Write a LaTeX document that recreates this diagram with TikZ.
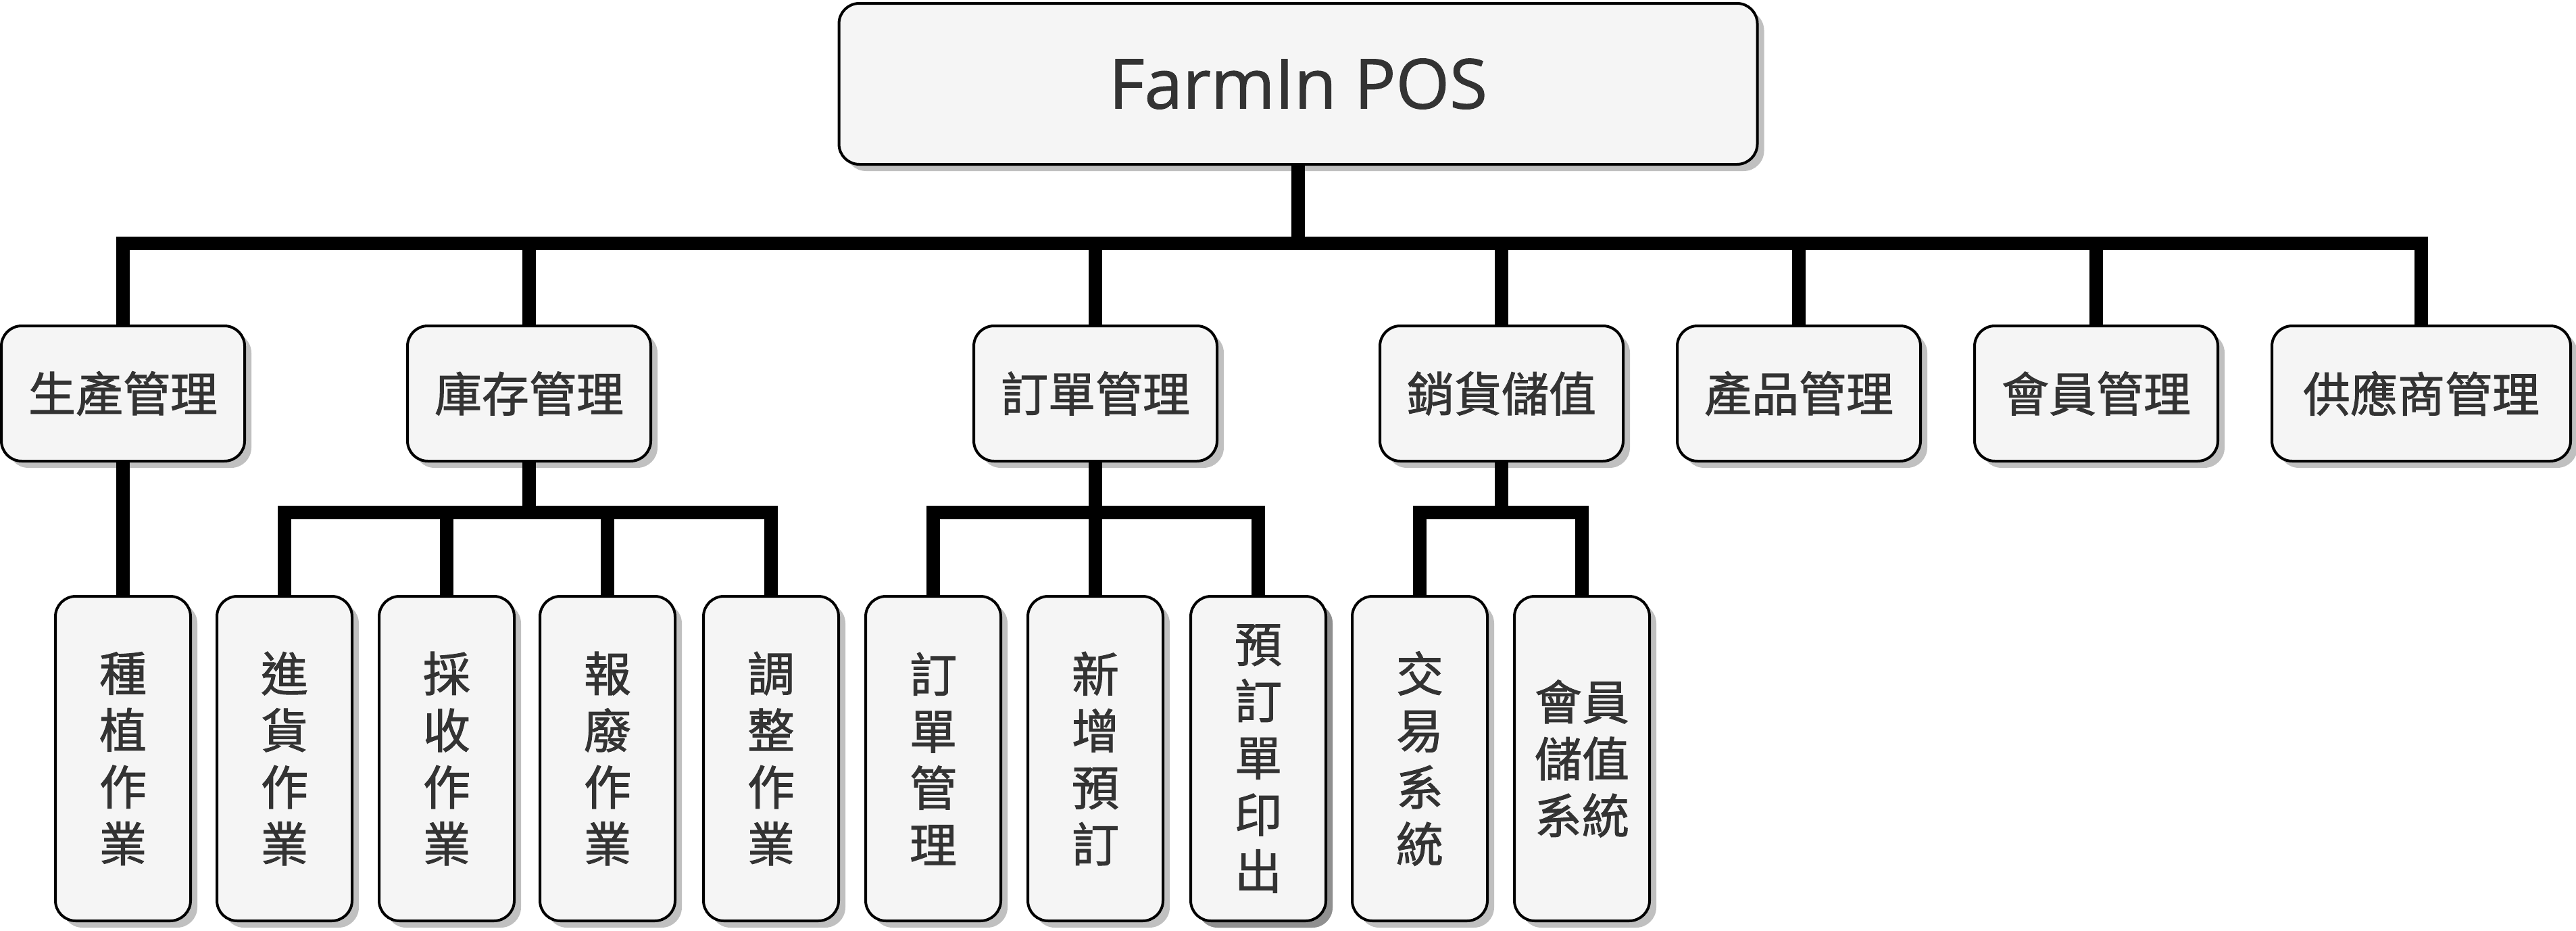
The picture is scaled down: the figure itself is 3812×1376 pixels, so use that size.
\documentclass[tikz,border=0pt]{standalone}
\usepackage{fontspec}
\setmainfont{Open Sans}[BoldFont={Open Sans}, BoldFeatures={FakeBold=1.0}]
\newfontfamily\cjk{Noto Sans CJK TC}[BoldFont={Noto Sans CJK TC}, BoldFeatures={FakeBold=1.4}]
\usetikzlibrary{shadows}
\definecolor{boxfill}{HTML}{F5F5F5}
\definecolor{txt}{HTML}{333333}
\definecolor{shad}{HTML}{C0C0C0}
\definecolor{shaddark}{HTML}{909090}
\tikzset{
  box/.style={draw=black, line width=2pt, fill=boxfill, rounded corners=15pt, inner sep=0pt,
    text=txt, align=center,
    drop shadow={shadow xshift=5pt, shadow yshift=-5pt, fill=shad, opacity=1}},
  darkshadow/.style={drop shadow={shadow xshift=5pt, shadow yshift=-5pt, fill=shaddark, opacity=1}},
  topbox/.style={box, minimum width=679.5pt, minimum height=119pt, font=\bfseries\fontsize{51}{60}\selectfont},
  midbox/.style={box, minimum width=180pt, minimum height=100pt, font=\cjk\bfseries\fontsize{35}{42}\selectfont},
  widebox/.style={midbox, minimum width=221pt},
  lowbox/.style={box, minimum width=100pt, minimum height=240pt, font=\cjk\bfseries\fontsize{35}{42}\selectfont},
  conn/.style={line width=10pt, draw=black}
}
\begin{document}
\begin{tikzpicture}[x=0.5pt,y=-0.5pt]
\useasboundingbox (0,0) rectangle (3812,1376);
% top
\node[topbox] (top) at (1921,124) {FarmIn POS};
% level 2
\node[midbox] (p1) at (182,582) {生產管理};
\node[midbox] (p2) at (783,582) {庫存管理};
\node[midbox] (p3) at (1621,582) {訂單管理};
\node[midbox] (p4) at (2222,582) {銷貨儲值};
\node[midbox] (p5) at (2662,582) {產品管理};
\node[midbox] (p6) at (3102,582) {會員管理};
\node[widebox] (p7) at (3583,582) {供應商管理};
% level 3
\node[lowbox] (c1) at (182,1122) {種\\植\\作\\業};
\node[lowbox] (c2) at (421,1122) {進\\貨\\作\\業};
\node[lowbox] (c3) at (661,1122) {採\\收\\作\\業};
\node[lowbox] (c4) at (899,1122) {報\\廢\\作\\業};
\node[lowbox] (c5) at (1141,1122) {調\\整\\作\\業};
\node[lowbox] (c6) at (1381,1122) {訂\\單\\管\\理};
\node[lowbox] (c7) at (1621,1122) {新\\增\\預\\訂};
\node[lowbox,darkshadow] (c8) at (1862,1122) {預\\訂\\單\\印\\出};
\node[lowbox] (c9) at (2101,1122) {交\\易\\系\\統};
\node[lowbox] (c10) at (2341,1122) {會員\\儲值\\系統};
% buses
\coordinate (bus) at (1921,360);
\coordinate (busA) at (783,758);
\coordinate (busB) at (1621,758);
\coordinate (busC) at (2222,758);
% connectors
\foreach \p in {p1,p2,p3,p4,p5,p6,p7}
  \draw[conn] (top.south) -- (top.south |- bus) -| (\p.north);
\draw[conn] (p1.south) -- (c1.north);
\foreach \c in {c2,c3,c4,c5}
  \draw[conn] (p2.south) -- (p2.south |- busA) -| (\c.north);
\foreach \c in {c6,c7,c8}
  \draw[conn] (p3.south) -- (p3.south |- busB) -| (\c.north);
\foreach \c in {c9,c10}
  \draw[conn] (p4.south) -- (p4.south |- busC) -| (\c.north);
\end{tikzpicture}
\end{document}
